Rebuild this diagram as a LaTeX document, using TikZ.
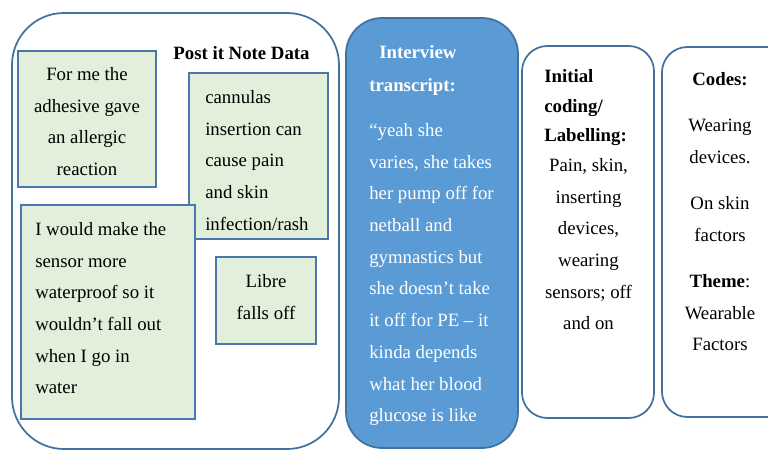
\documentclass[tikz,border=0pt]{standalone}
\usepackage{fontspec}
\setmainfont{Liberation Serif}
\definecolor{boxline}{HTML}{41719C}
\definecolor{noteline}{HTML}{4A78AE}
\definecolor{notefill}{HTML}{E2EFDA}
\definecolor{ivfill}{HTML}{5B9BD5}
\newcommand{\topstrut}{\rule{0pt}{12pt}}
\tikzset{
  bigbox/.style={draw=boxline, line width=1.3pt, fill=white},
  notebox/.style={draw=noteline, line width=1.6pt, fill=notefill},
  txt/.style={inner sep=0pt, font=\fontsize{14.1}{23.8}\selectfont},
  hdr/.style={inner sep=0pt, font=\fontsize{14.1}{22.3}\selectfont\bfseries},
}
\begin{document}
\begin{tikzpicture}[x=0.75pt, y=-0.75pt]
\clip (0,0) rectangle (768,450);
\fill[white] (0,0) rectangle (768,450);
% big left box
\draw[bigbox, rounded corners=39pt] (12,13) rectangle (339,449);
\node[txt, anchor=base, font=\fontsize{14.1}{23.8}\selectfont\bfseries] (title) at (241.5,59) {Post it Note Data};
% post it notes
\draw[notebox] (18,51) rectangle (156,187);
\node[txt, anchor=north, align=center] (n1) at (87,64) {\topstrut For me the\\adhesive gave\\an allergic\\reaction};
\draw[notebox] (189,73) rectangle (328,239);
\node[txt, anchor=north west, align=left] (n2) at (205,87) {\topstrut cannulas\\insertion can\\cause pain\\and skin\\infection/rash};
\draw[notebox] (216,257) rectangle (316,344);
\node[txt, anchor=north, align=center] (n4) at (266,271) {\topstrut Libre\\falls off};
\draw[notebox] (21,205) rectangle (195,419);
\node[txt, anchor=north west, align=left] (n3) at (35,219) {\topstrut I would make the\\sensor more\\waterproof so it\\wouldn’t fall out\\when I go in\\water};
% interview
\draw[draw=boxline, line width=1.3pt, fill=ivfill, rounded corners=27pt] (346,18) rectangle (518,448);
\node[txt, anchor=base west, text=white, font=\fontsize{14.1}{23.8}\selectfont\bfseries] (iv1) at (379,58) {Interview};
\node[txt, anchor=base west, text=white, font=\fontsize{14.1}{23.8}\selectfont\bfseries] (iv2) at (369,91) {transcript:};
\node[txt, anchor=north west, align=left, text=white] (ivb) at (369,120) {\topstrut “yeah she\\varies, she takes\\her pump off for\\netball and\\gymnastics but\\she doesn’t take\\it off for PE – it\\kinda depends\\what her blood\\glucose is like};
% initial coding
\draw[bigbox, rounded corners=19pt] (522,46) rectangle (654,418);
\node[hdr, anchor=north west, align=left] (ic1) at (544,66) {\topstrut Initial\\coding/\\Labelling:};
\node[txt, anchor=north, align=center] (ic2) at (588.5,155) {\topstrut Pain, skin,\\inserting\\devices,\\wearing\\sensors; off\\and on};
% codes
\draw[bigbox, rounded corners=19pt] (662,47) rectangle (800,417);
\node[txt, anchor=base, font=\fontsize{14.1}{23.8}\selectfont\bfseries] (c0) at (720,85) {Codes:};
\node[txt, anchor=north, align=center] (c1) at (720,115) {\topstrut Wearing\\devices.};
\node[txt, anchor=north, align=center] (c2) at (720,193) {\topstrut On skin\\factors};
\node[txt, anchor=north, align=center] (c3) at (720,271) {\topstrut\textbf{Theme}:\\Wearable\\Factors};
\end{tikzpicture}
\end{document}
